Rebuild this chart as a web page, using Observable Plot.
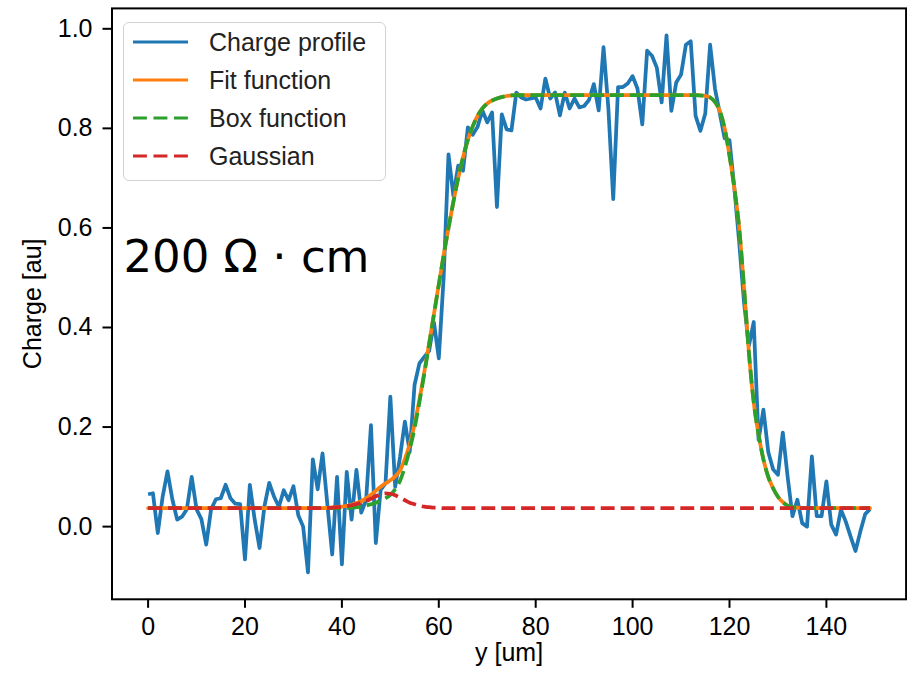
<!DOCTYPE html>
<html>
<head>
<meta charset="utf-8">
<script src="https://cdn.jsdelivr.net/npm/d3@7"></script>
<script src="https://cdn.jsdelivr.net/npm/@observablehq/plot@0.6"></script>
<style>
  body { margin: 0; background: #fff; }
  #wrap { position: relative; width: 907px; height: 675px; }
  #legend {
    position: absolute; left: 123px; top: 22px; width: 263px; height: 159px;
    box-sizing: border-box; border: 1.5px solid #d2d2d2; border-radius: 6px;
    background: rgba(255,255,255,0.8); padding-top: 0px;
    font-family: "Liberation Sans", Arial, sans-serif; font-size: 25px; color: #222;
  }
  .row { height: 38px; display: flex; align-items: center; }
  .row svg { margin-left: 9px; flex: none; }
  .row span { margin-left: 21px; white-space: nowrap; }
</style>
</head>
<body>
<div id="wrap"></div>
<script>
// Charge profile, one sample per micrometre (y = 0 … 149 um)
const chargeProfile = [
  0.065, 0.067, -0.013, 0.06, 0.111, 0.055, 0.014, 0.02, 0.035, 0.1,
  0.035, 0.015, -0.036, 0.035, 0.055, 0.057, 0.084, 0.057, 0.046, 0.045,
  -0.066, 0.084, 0.014, -0.043, 0.04, 0.088, 0.06, 0.04, 0.073, 0.053,
  0.081, 0.023, 0.0, -0.092, 0.135, 0.075, 0.147, 0.045, -0.056, 0.1,
  -0.076, 0.11, 0.014, 0.114, 0.028, 0.054, 0.204, -0.033, 0.074, 0.087,
  0.261, 0.08, 0.14, 0.211, 0.15, 0.285, 0.328, 0.341, 0.353, 0.41,
  0.338, 0.5, 0.748, 0.665, 0.725, 0.715, 0.802, 0.787, 0.803, 0.836,
  0.812, 0.832, 0.642, 0.828, 0.798, 0.796, 0.872, 0.862, 0.858, 0.86,
  0.862, 0.84, 0.9, 0.86, 0.872, 0.826, 0.872, 0.84, 0.86, 0.842,
  0.845, 0.857, 0.889, 0.836, 0.963, 0.84, 0.658, 0.883, 0.883, 0.89,
  0.905, 0.88, 0.808, 0.956, 0.946, 0.922, 0.852, 0.987, 0.835, 0.892,
  0.908, 0.968, 0.975, 0.825, 0.795, 0.83, 0.968, 0.88, 0.83, 0.78,
  0.776, 0.68, 0.571, 0.45, 0.363, 0.411, 0.174, 0.235, 0.15, 0.115,
  0.104, 0.189, 0.1, 0.021, 0.054, 0.007, 0.0, 0.141, 0.021, 0.021,
  0.091, 0.004, -0.016, 0.034, 0.01, -0.02, -0.049, -0.01, 0.025, 0.035
];
const positionsUm = d3.range(chargeProfile.length);

// Smooth fitted curves, read at these positions (um)
const curveX = [0, 30, 36, 38, 40, 42, 44, 46, 47, 48, 49, 50, 51, 52, 53, 54, 55, 56, 57, 58,
  59, 60, 61, 62, 63, 64, 65, 66, 67, 68, 69, 70, 72, 74, 76, 80, 90, 100, 110, 113,
  115, 116, 117, 118, 119, 120, 121, 122, 123, 124, 125, 126, 127, 128, 129, 130, 131, 132, 133, 134,
  136, 140, 149];
const fitValues = [0.037, 0.037, 0.037, 0.038, 0.04, 0.044, 0.051, 0.064, 0.072, 0.08, 0.087, 0.093, 0.101, 0.113, 0.136, 0.166, 0.206, 0.255, 0.31, 0.368,
  0.427, 0.487, 0.545, 0.6, 0.652, 0.7, 0.742, 0.777, 0.804, 0.825, 0.84, 0.85, 0.86, 0.865, 0.867, 0.867, 0.867, 0.867, 0.867, 0.867,
  0.865, 0.862, 0.853, 0.835, 0.8, 0.745, 0.68, 0.6, 0.48, 0.35, 0.25, 0.185, 0.135, 0.1, 0.077, 0.06, 0.049, 0.042, 0.039, 0.038,
  0.037, 0.037, 0.037];
const boxValues = [0.037, 0.037, 0.037, 0.037, 0.037, 0.038, 0.04, 0.045, 0.048, 0.052, 0.057, 0.064, 0.075, 0.092, 0.12, 0.155, 0.198, 0.25, 0.307, 0.366,
  0.426, 0.486, 0.545, 0.6, 0.652, 0.7, 0.742, 0.777, 0.804, 0.825, 0.84, 0.85, 0.86, 0.865, 0.867, 0.867, 0.867, 0.867, 0.867, 0.867,
  0.865, 0.862, 0.853, 0.835, 0.8, 0.745, 0.68, 0.6, 0.48, 0.35, 0.25, 0.185, 0.135, 0.1, 0.077, 0.06, 0.049, 0.042, 0.039, 0.038,
  0.037, 0.037, 0.037];
const gaussValues = [0.037, 0.037, 0.037, 0.038, 0.04, 0.043, 0.048, 0.056, 0.061, 0.065, 0.067, 0.066, 0.063, 0.058, 0.053, 0.048, 0.045, 0.042, 0.04, 0.039,
  0.038, 0.038, 0.037, 0.037, 0.037, 0.037, 0.037, 0.037, 0.037, 0.037, 0.037, 0.037, 0.037, 0.037, 0.037, 0.037, 0.037, 0.037, 0.037, 0.037,
  0.037, 0.037, 0.037, 0.037, 0.037, 0.037, 0.037, 0.037, 0.037, 0.037, 0.037, 0.037, 0.037, 0.037, 0.037, 0.037, 0.037, 0.037, 0.037, 0.037,
  0.037, 0.037, 0.037];

const xTicks = [0, 20, 40, 60, 80, 100, 120, 140];
const yTicks = [0.0, 0.2, 0.4, 0.6, 0.8, 1.0];
const seriesNames = ["Charge profile", "Fit function", "Box function", "Gaussian"];
const seriesColors = ["#1f77b4", "#ff7f0e", "#2ca02c", "#d62728"];
const seriesDashed = [false, false, true, true];
const annotation = "200 Ω · cm";

const LW = 3.75;
const DASH = "13.9,6";
const font = "'Liberation Sans', Arial, sans-serif";

const chart = Plot.plot({
  width: 907,
  height: 675,
  marginLeft: 111.5,
  marginRight: 1.4,
  marginTop: 7.9,
  marginBottom: 76.2,
  style: { fontSize: "25px", fontFamily: font, background: "white", color: "black" },
  x: { domain: [-7.45, 156.45] },
  y: { domain: [-0.146, 1.041] },
  marks: [
    Plot.axisX({ ticks: xTicks, tickSize: 9, tickPadding: 9, strokeWidth: 2, fontSize: 25,
      label: "y [um]", labelAnchor: "center", labelOffset: 62, labelArrow: "none" }),
    Plot.axisY({ ticks: yTicks, tickSize: 9, tickPadding: 10.5, strokeWidth: 2, fontSize: 25,
      tickFormat: d3.format(".1f"),
      label: "Charge [au]", labelAnchor: "center", labelOffset: 89, labelArrow: "none" }),
    Plot.line(chargeProfile, { x: (d, i) => positionsUm[i], y: d => d,
      stroke: seriesColors[0], strokeWidth: LW, strokeLinejoin: "round", strokeLinecap: "butt" }),
    Plot.line(fitValues, { x: (d, i) => curveX[i], y: d => d, curve: "monotone-x",
      stroke: seriesColors[1], strokeWidth: LW }),
    Plot.line(boxValues, { x: (d, i) => curveX[i], y: d => d, curve: "monotone-x",
      stroke: seriesColors[2], strokeWidth: LW, strokeDasharray: DASH, strokeLinecap: "butt" }),
    Plot.line(gaussValues, { x: (d, i) => curveX[i], y: d => d, curve: "monotone-x",
      stroke: seriesColors[3], strokeWidth: LW, strokeDasharray: DASH, strokeLinecap: "butt" }),
    Plot.text([annotation], { x: -5.1, y: 0.511, text: d => d, textAnchor: "start", lineAnchor: "bottom",
      fontSize: 45, fontFamily: "'DejaVu Sans', sans-serif", fill: "black" }),
    Plot.frame({ stroke: "black", strokeWidth: 2 })
  ]
});

const wrap = document.getElementById("wrap");
wrap.appendChild(chart);

// Legend overlaid inside the axes, upper left
const legend = document.createElement("div");
legend.id = "legend";
seriesNames.forEach((name, i) => {
  const row = document.createElement("div");
  row.className = "row";
  const ns = "http://www.w3.org/2000/svg";
  const svg = document.createElementNS(ns, "svg");
  svg.setAttribute("width", "55");
  svg.setAttribute("height", "10");
  const ln = document.createElementNS(ns, "line");
  ln.setAttribute("x1", "0"); ln.setAttribute("x2", "55");
  ln.setAttribute("y1", "5"); ln.setAttribute("y2", "5");
  ln.setAttribute("stroke", seriesColors[i]);
  ln.setAttribute("stroke-width", "3");
  if (seriesDashed[i]) ln.setAttribute("stroke-dasharray", "13.9,6.6");
  svg.appendChild(ln);
  const span = document.createElement("span");
  span.textContent = name;
  row.appendChild(svg);
  row.appendChild(span);
  legend.appendChild(row);
});
wrap.appendChild(legend);
</script>
</body>
</html>
